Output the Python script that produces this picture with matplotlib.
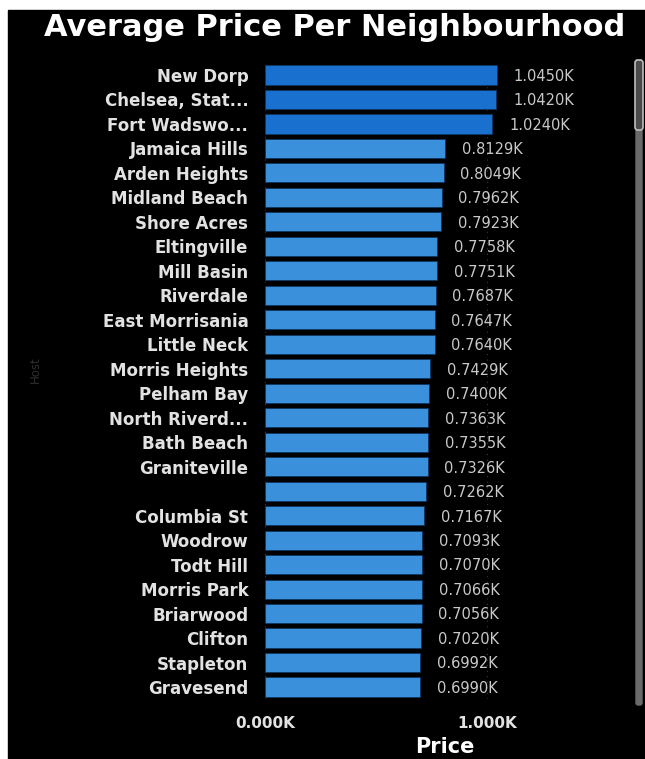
import matplotlib.pyplot as plt
import matplotlib.patches as mpatches

# --- Data ---
NEIGHBOURHOODS = [
    "New Dorp", "Chelsea, Stat...", "Fort Wadswo...", "Jamaica Hills", "Arden Heights",
    "Midland Beach", "Shore Acres", "Eltingville", "Mill Basin", "Riverdale",
    "East Morrisania", "Little Neck", "Morris Heights", "Pelham Bay", "North Riverd...",
    "Bath Beach", "Graniteville", "", "Columbia St", "Woodrow",
    "Todt Hill", "Morris Park", "Briarwood", "Clifton", "Stapleton", "Gravesend",
]
AVG_PRICE = [
    1045.0, 1042.0, 1024.0, 812.9, 804.9,
    796.2, 792.3, 775.8, 775.1, 768.7,
    764.7, 764.0, 742.9, 740.0, 736.3,
    735.5, 732.6, 726.2, 716.7, 709.3,
    707.0, 706.6, 705.6, 702.0, 699.2, 699.0,
]
X_TICKS = [0, 1000]
X_TICK_LABELS = ["0.000K", "1.000K"]

# --- Style ---
BG = "#000000"
BAR_TOP = "#1a70cf"
BAR = "#3b90dc"
LABEL = "#e2e2e2"
VALUE = "#c9c9c9"
GRID = "#3a3a3a"
FONT = "DejaVu Sans"

W, H = 645, 759
fig = plt.figure(figsize=(W / 100, H / 100), dpi=100, facecolor="white")

# black report panel with a thin white margin on top/left
fig.patches.append(mpatches.Rectangle((8 / W, 0), 1 - 8 / W, (H - 10) / H,
                                      transform=fig.transFigure, color=BG, zorder=-5))
fig.text(150 / W, 1 + 6 / H, "by Avg Price", fontsize=14, color="black",
         family=FONT, ha="left", va="baseline")

fig.text(335 / W, 1 - 28 / H, "Average Price Per Neighbourhood", color="white",
         fontsize=22, fontweight="black", family=FONT, ha="center", va="center")

# axes: x=0 at 265px, 1000 at ~487px; rows from 75px to 687px
px_per_unit = 222 / 1000
ax_left, ax_right = 265, 600
row_gap = (687 - 75) / 25
ax_top, ax_bot = 75 - row_gap / 2, 687 + row_gap / 2
ax = fig.add_axes([ax_left / W, 1 - ax_bot / H, (ax_right - ax_left) / W, (ax_bot - ax_top) / H])
ax.set_facecolor(BG)
ax.patch.set_alpha(0)

y = list(range(len(NEIGHBOURHOODS)))
colors = [BAR_TOP if i < 3 else BAR for i in y]
bars = ax.barh(y, AVG_PRICE, height=0.78, color=colors, edgecolor="#0d3660",
               linewidth=0.6, zorder=2)
ax.set_xlim(0, (ax_right - ax_left) / px_per_unit)
ax.set_ylim(len(y) - 0.5, -0.5)

for yi, v in zip(y, AVG_PRICE):
    ax.annotate(f"{v / 1000:.4f}K", xy=(v, yi), xytext=(12, -1), textcoords="offset points",
                ha="left", va="center", fontsize=10.5, color=VALUE, family=FONT)

for xt in X_TICKS:
    ax.axvline(xt, color=GRID, linewidth=0.8, linestyle=(0, (1, 4)), zorder=1)

ax.set_yticks(y)
ax.set_yticklabels(NEIGHBOURHOODS, fontsize=12, fontweight="bold", color=LABEL, family=FONT)
ax.set_xticks(X_TICKS)
ax.set_xticklabels(X_TICK_LABELS, fontsize=11, fontweight="bold", color=LABEL, family=FONT)
ax.tick_params(axis="y", length=0, pad=12)
ax.tick_params(axis="x", length=0, pad=12)
for spine in ax.spines.values():
    spine.set_visible(False)

fig.text(445 / W, 1 - 747 / H, "Price", fontsize=15, fontweight="bold", color="white",
         family=FONT, ha="center", va="center")

fig.text(35 / W, 1 - 370 / H, "Host", rotation=90, color="#2e2e2e", fontsize=8.5,
         family=FONT, ha="center", va="center")

# scrollbar track and thumb
fig.patches.append(mpatches.FancyBboxPatch((636 / W, 1 - 705 / H), 6 / W, 645 / H,
                                           boxstyle="round,pad=0,rounding_size=0.003",
                                           transform=fig.transFigure, color="#6a6a6a", zorder=1))
fig.patches.append(mpatches.FancyBboxPatch((635 / W, 1 - 130 / H), 8 / W, 70 / H,
                                           boxstyle="round,pad=0,rounding_size=0.004",
                                           transform=fig.transFigure, facecolor="#4a4a4a",
                                           edgecolor="#bdbdbd", linewidth=1.2, zorder=2))

fig.savefig("out.png", dpi=100, facecolor=fig.get_facecolor())
